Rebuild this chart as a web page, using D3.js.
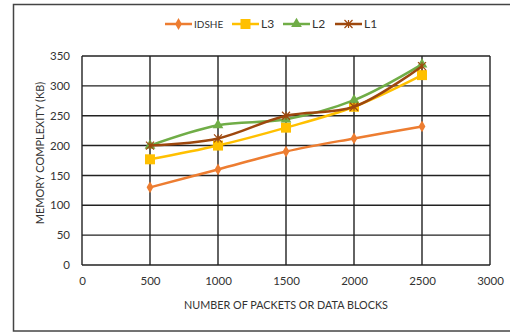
<!DOCTYPE html>
<html>
<head>
<meta charset="utf-8">
<script src="https://cdn.jsdelivr.net/npm/d3@7"></script>
<style>
  html, body { margin: 0; padding: 0; background: #fff; }
  svg { display: block; font-family: Lato, "Open Sans", sans-serif; }
</style>
</head>
<body>
<svg id="chart" width="510" height="334"></svg>
<script>
// Packet counts on the x axis
const packets = [500, 1000, 1500, 2000, 2500];

// Memory use (KB) per scheme
const idshe = [130, 160, 190, 212, 232];
const l3 = [177, 200, 230, 265, 318];
const l2 = [200, 234, 244, 276, 336];
const l1 = [200, 212, 250, 265, 333];

const seriesNames = ["IDSHE", "L3", "L2", "L1"];
const seriesValues = [idshe, l3, l2, l1];

const xTicks = [0, 500, 1000, 1500, 2000, 2500, 3000];
const yTicks = [0, 50, 100, 150, 200, 250, 300, 350];

const colors = ["#ED7D31", "#FFC000", "#70AD47", "#9E480E"];
const markers = ["diamond", "square", "triangle", "star"];

const svg = d3.select("#chart");

// outer frame
svg.append("rect")
  .attr("x", 13.5).attr("y", 4.5)
  .attr("width", 520).attr("height", 326.5)
  .attr("fill", "none").attr("stroke", "#444").attr("stroke-width", 1.5);

const x = d3.scaleLinear().domain([0, 3000]).range([82, 490]);
const y = d3.scaleLinear().domain([0, 350]).range([265, 56]);

// grid
const grid = svg.append("g").attr("stroke", "#222").attr("stroke-width", 1.4);
grid.selectAll("line.h").data(yTicks).join("line")
  .attr("x1", x(0)).attr("x2", x(3000))
  .attr("y1", d => y(d)).attr("y2", d => y(d));
grid.selectAll("line.v").data(xTicks).join("line")
  .attr("y1", y(0)).attr("y2", y(350))
  .attr("x1", d => x(d)).attr("x2", d => x(d));

// axis labels (no domain or tick lines; the grid covers them)
const xAxis = d3.axisBottom(x).tickValues(xTicks).tickFormat(d3.format("d"))
  .tickSize(0).tickPadding(12);
const gx = svg.append("g").attr("transform", `translate(0,${y(0)})`).call(xAxis);
gx.select(".domain").remove();
gx.selectAll("text").attr("font-size", 11.5).attr("fill", "#333").attr("font-family", "Lato");

const yAxis = d3.axisLeft(y).tickValues(yTicks).tickFormat(d3.format("d"))
  .tickSize(0).tickPadding(12);
const gy = svg.append("g").attr("transform", `translate(${x(0)},0)`).call(yAxis);
gy.select(".domain").remove();
gy.selectAll("text").attr("font-size", 11.5).attr("fill", "#333").attr("font-family", "Lato");

svg.append("text")
  .attr("x", 286).attr("y", 309)
  .attr("text-anchor", "middle").attr("font-size", 10.8).attr("fill", "#333")
  .text("NUMBER OF PACKETS OR DATA BLOCKS");

svg.append("text")
  .attr("transform", "translate(44,153) rotate(-90)")
  .attr("text-anchor", "middle").attr("font-size", 11).attr("fill", "#333")
  .text("MEMORY COMPLEXITY (KB)");

const line = d3.line()
  .x((d, i) => x(packets[i]))
  .y(d => y(d))
  .curve(d3.curveCatmullRom.alpha(0.5));

function drawMarker(g, type, color, cx, cy) {
  if (type === "diamond") {
    g.append("path").attr("d", d3.symbol(d3.symbolDiamond, 40)())
      .attr("transform", `translate(${cx},${cy})`).attr("fill", color);
  } else if (type === "square") {
    g.append("rect").attr("x", cx - 5).attr("y", cy - 5)
      .attr("width", 10).attr("height", 10).attr("fill", color);
  } else if (type === "triangle") {
    g.append("path").attr("d", d3.symbol(d3.symbolTriangle, 50)())
      .attr("transform", `translate(${cx},${cy})`).attr("fill", color);
  } else {
    const s = 4;
    g.append("path")
      .attr("d", `M${cx - s},${cy - s}L${cx + s},${cy + s}M${cx - s},${cy + s}L${cx + s},${cy - s}M${cx},${cy - s}L${cx},${cy + s}`)
      .attr("stroke", color).attr("stroke-width", 1.2).attr("fill", "none");
  }
}

seriesValues.forEach((vals, si) => {
  const g = svg.append("g");
  g.append("path").datum(vals)
    .attr("d", line)
    .attr("fill", "none").attr("stroke", colors[si]).attr("stroke-width", 2.5);
  vals.forEach((v, i) => drawMarker(g, markers[si], colors[si], x(packets[i]), y(v)));
});

// legend
const legendX = [165, 232, 283, 335];
const legendY = 24;
seriesNames.forEach((name, si) => {
  const g = svg.append("g");
  const lx = legendX[si];
  g.append("line").attr("x1", lx).attr("x2", lx + 27)
    .attr("y1", legendY).attr("y2", legendY)
    .attr("stroke", colors[si]).attr("stroke-width", 2.5);
  drawMarker(g, markers[si], colors[si], lx + 13.5, legendY);
  g.append("text").attr("x", lx + 29).attr("y", legendY + 4)
    .attr("font-size", name === "IDSHE" ? 10 : 12).attr("fill", "#333")
    .text(name);
});
</script>
</body>
</html>
